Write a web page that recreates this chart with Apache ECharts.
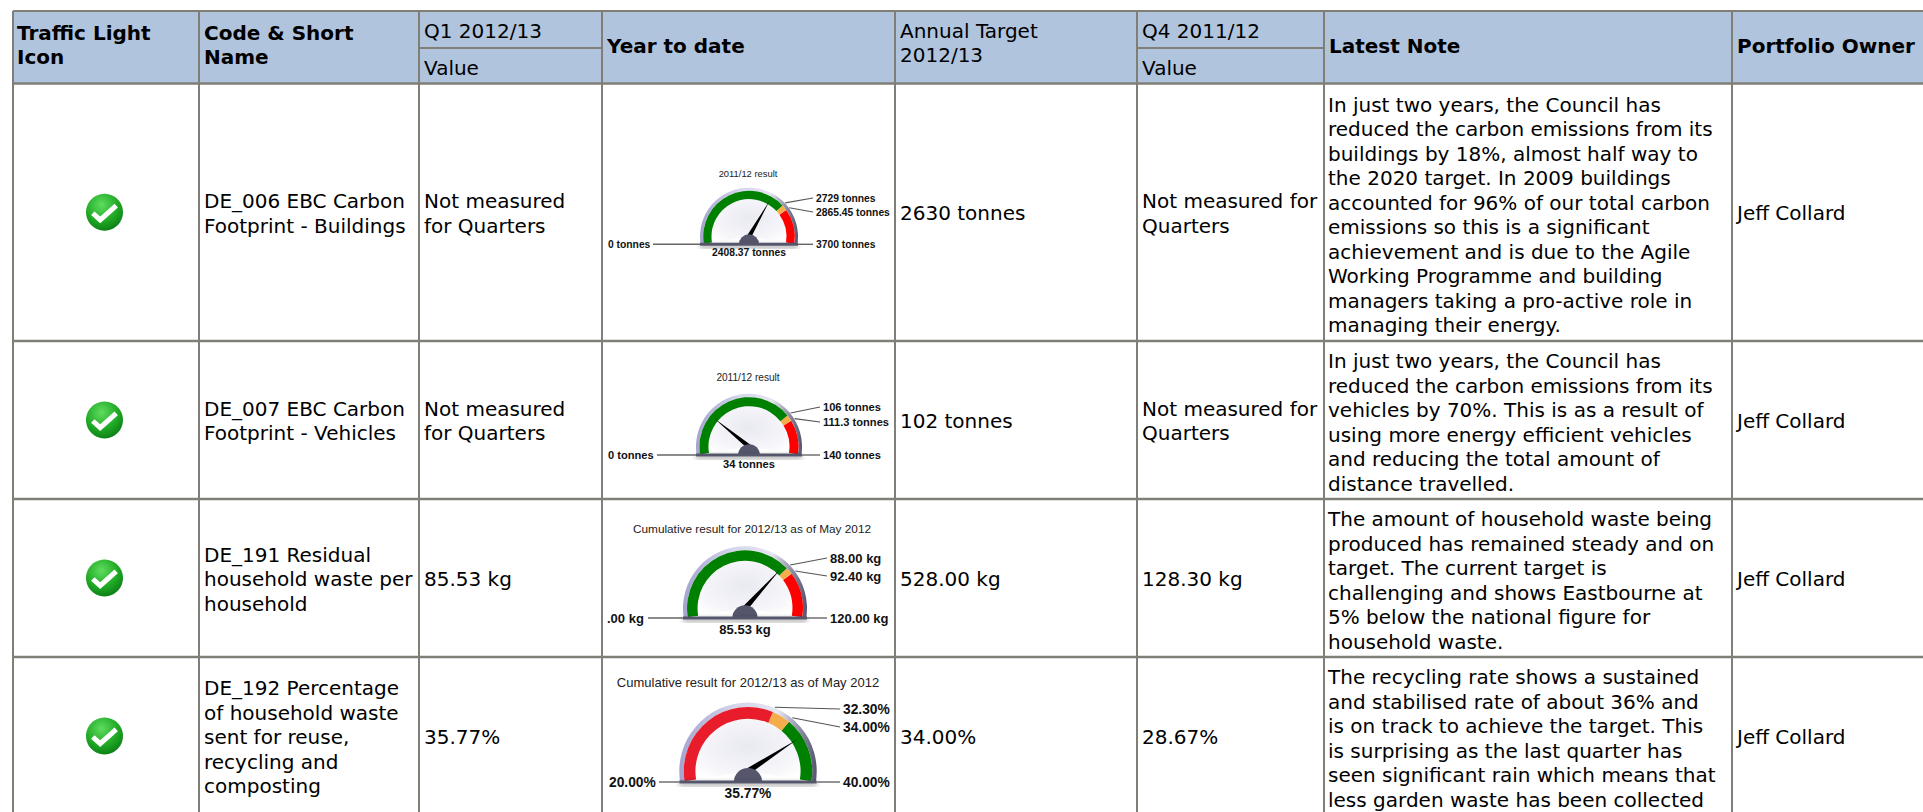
<!DOCTYPE html>
<html>
<head>
<meta charset="utf-8">
<title>Scorecard</title>
<style>
  html, body { margin: 0; padding: 0; background: #fff; overflow: hidden; }
  #chart { width: 1923px; height: 812px; }
</style>
<script src="https://cdn.jsdelivr.net/npm/echarts@6/dist/echarts.min.js"></script>
</head>
<body>
<div id="chart"></div>
<script>
// table text
const headerBold = ['Traffic Light\nIcon', 'Code & Short\nName', 'Year to date', 'Latest Note', 'Portfolio Owner']
const kpiNames = [
  'DE_006 EBC Carbon\nFootprint - Buildings',
  'DE_007 EBC Carbon\nFootprint - Vehicles',
  'DE_191 Residual\nhousehold waste per\nhousehold',
  'DE_192 Percentage\nof household waste\nsent for reuse,\nrecycling and\ncomposting'
]
const q1Values = ['Not measured\nfor Quarters', 'Not measured\nfor Quarters', '85.53 kg', '35.77%']
const annualTargets = ['2630 tonnes', '102 tonnes', '528.00 kg', '34.00%']
const q4Values = ['Not measured for\nQuarters', 'Not measured for\nQuarters', '128.30 kg', '28.67%']
const owners = ['Jeff Collard', 'Jeff Collard', 'Jeff Collard', 'Jeff Collard']
const notes = [
  'In just two years, the Council has\nreduced the carbon emissions from its\nbuildings by 18%, almost half way to\nthe 2020 target. In 2009 buildings\naccounted for 96% of our total carbon\nemissions so this is a significant\nachievement and is due to the Agile\nWorking Programme and building\nmanagers taking a pro-active role in\nmanaging their energy.',
  'In just two years, the Council has\nreduced the carbon emissions from its\nvehicles by 70%. This is as a result of\nusing more energy efficient vehicles\nand reducing the total amount of\ndistance travelled.',
  'The amount of household waste being\nproduced has remained steady and on\ntarget. The current target is\nchallenging and shows Eastbourne at\n5% below the national figure for\nhousehold waste.',
  'The recycling rate shows a sustained\nand stabilised rate of about 36% and\nis on track to achieve the target. This\nis surprising as the last quarter has\nseen significant rain which means that\nless garden waste has been collected'
]

// gauge values
const gaugeTitles = ['2011/12 result', '2011/12 result', 'Cumulative result for 2012/13 as of May 2012', 'Cumulative result for 2012/13 as of May 2012']
const gaugeMin = [0, 0, 0, 20]
const gaugeMax = [3700, 140, 120, 40]
const gaugeLow = [2729, 106, 88, 32.3]
const gaugeHigh = [2865.45, 111.3, 92.4, 34]
const gaugeValue = [2408.37, 34, 85.53, 35.77]
const gaugeColors = [
  ['#008000', '#f4ad4a', '#ff0000'],
  ['#008000', '#f4ad4a', '#ff0000'],
  ['#008000', '#f4ad4a', '#ff0000'],
  ['#e81c2a', '#f4ad4a', '#008000']
]
const minLabels = ['0 tonnes', '0 tonnes', '.00 kg', '20.00%']
const lowLabels = ['2729 tonnes', '106 tonnes', '88.00 kg', '32.30%']
const highLabels = ['2865.45 tonnes', '111.3 tonnes', '92.40 kg', '34.00%']
const maxLabels = ['3700 tonnes', '140 tonnes', '120.00 kg', '40.00%']
const valueLabels = ['2408.37 tonnes', '34 tonnes', '85.53 kg', '35.77%']

// layout
const colX = [13, 199, 419, 602, 895, 1137, 1324, 1732]
const rowY = [83.5, 341, 499, 657, 815]
const TOP = 11, MID = 48, W = 1923
const FONT = '"DejaVu Sans", Verdana, sans-serif'
const LABEL_FONT = '"Liberation Sans", Arial, sans-serif'
const FS = 20
const LH = 24.5
const BORDER = '#7f7f78'

const gaugeCx = [749, 749, 745, 748]
const gaugeBase = [244.3, 455, 618, 782]
const gaugeR = [49, 53, 62, 68.7]
const titleCx = [748, 748, 752, 748]
const titleY = [173, 377, 529, 682]
const titleSize = [9.4, 10.1, 11.8, 13]
const labelSize = [10.3, 11.1, 13, 13.8]
const rightX = [816, 823, 830, 843]
const lowY = [198, 407, 558, 709]
const highY = [212, 422, 576, 727]
const leftX = [608, 608, 607, 609]
const leftLineX = [653, 657, 648, 659]
const valueDy = [8, 9, 11, 11]

const START = 189, END = -9, SWEEP = START - END

const bare = {
  type: 'gauge', startAngle: START, endAngle: END,
  axisTick: { show: false }, splitLine: { show: false }, axisLabel: { show: false },
  title: { show: false }, detail: { show: false }, pointer: { show: false }
}

function gaugeSeries(i) {
  const R = gaugeR[i]
  const cy = gaugeBase[i] - R * Math.sin(9 * Math.PI / 180)
  const center = [gaugeCx[i], cy]
  const frac = v => (v - gaugeMin[i]) / (gaugeMax[i] - gaugeMin[i])
  const face = {
    ...bare, center, radius: R, min: gaugeMin[i], max: gaugeMax[i], data: [{ value: gaugeMin[i] }],
    axisLine: { lineStyle: { width: R, color: [[1, new echarts.graphic.RadialGradient(0.5, 0.55, 0.5, [
      { offset: 0, color: '#e9e9f1' }, { offset: 0.7, color: '#f5f5fa' }, { offset: 1, color: '#ffffff' }
    ])]] } }
  }
  const rim = {
    ...bare, center, radius: R, min: gaugeMin[i], max: gaugeMax[i], data: [{ value: gaugeMin[i] }],
    axisLine: { lineStyle: { width: R * 0.065, color: [[1, new echarts.graphic.LinearGradient(0, 0, 1, 0, [
      { offset: 0, color: '#a4a4cf' }, { offset: 0.4, color: '#d4d4ec' }, { offset: 0.72, color: '#e6e6f2' },
      { offset: 0.88, color: '#8c8ca4' }, { offset: 1, color: '#55556f' }
    ])]] } }
  }
  const band = {
    ...bare, center, radius: R * 0.935, min: gaugeMin[i], max: gaugeMax[i],
    data: [{ value: gaugeValue[i] }],
    axisLine: { lineStyle: { width: R * 0.17, color: [
      [frac(gaugeLow[i]), gaugeColors[i][0]],
      [frac(gaugeHigh[i]), gaugeColors[i][1]],
      [1, gaugeColors[i][2]]
    ] } },
    pointer: { show: true, icon: 'triangle', length: R * 0.85, width: R * 0.09, itemStyle: { color: '#000' } }
  }
  const hub = {
    ...bare, center: [gaugeCx[i], gaugeBase[i]], radius: R * 0.205, startAngle: 180, endAngle: 0,
    min: gaugeMin[i], max: gaugeMax[i], data: [{ value: gaugeMin[i] }],
    axisLine: { lineStyle: { width: R * 0.205, color: [[1, '#55566c']] } }
  }
  return [face, rim, band, hub]
}

function text(str, x, y, opt) {
  return {
    type: 'text', z: 10, silent: true,
    style: Object.assign({
      text: str, x, y, fontFamily: FONT, fontSize: FS, lineHeight: LH, fill: '#000',
      verticalAlign: 'middle', align: 'left'
    }, opt || {})
  }
}
function line(x1, y1, x2, y2, stroke, lineWidth) {
  return { type: 'line', z: 8, silent: true, shape: { x1, y1, x2, y2 }, style: { stroke, lineWidth } }
}

function tableGraphics() {
  const els = []
  // header
  els.push({ type: 'rect', z: 1, shape: { x: colX[0], y: TOP, width: W - colX[0], height: rowY[0] - TOP }, style: { fill: '#b0c4de' } })
  // lines
  els.push(line(colX[0], TOP, W, TOP, BORDER, 2))
  rowY.slice(0, 4).forEach(y => els.push(line(colX[0], y, W, y, BORDER, 2.4)))
  colX.forEach(x => els.push(line(x, TOP, x, 812, BORDER, 2)))
  els.push(line(colX[2], MID, colX[3], MID, BORDER, 2))
  els.push(line(colX[5], MID, colX[6], MID, BORDER, 2))

  const bold = { fontWeight: 'bold' }
  els.push(text(headerBold[0], 17, 45, bold))
  els.push(text(headerBold[1], 204, 45, bold))
  els.push(text(headerBold[2], 607, 45.5, bold))
  els.push(text(headerBold[3], 1329, 45.5, bold))
  els.push(text(headerBold[4], 1737, 45.5, bold))
  els.push(text('Q1 2012/13', 424, 31))
  els.push(text('Value', 424, 67.5))
  els.push(text('Annual Target\n2012/13', 900, 43))
  els.push(text('Q4 2011/12', 1142, 31))
  els.push(text('Value', 1142, 67.5))

  kpiNames.forEach((_, r) => {
    const mid = (rowY[r] + rowY[r + 1]) / 2 + 1
    els.push(text(kpiNames[r], colX[1] + 5, mid))
    els.push(text(q1Values[r], colX[2] + 5, mid))
    els.push(text(annualTargets[r], colX[4] + 5, mid))
    els.push(text(q4Values[r], colX[5] + 5, mid))
    els.push(text(notes[r], colX[6] + 4, mid + 1.5))
    els.push(text(owners[r], colX[7] + 5, mid))
    // status icon
    const ix = 104.5, iy = mid - 1
    els.push({
      type: 'circle', z: 5, shape: { cx: ix, cy: iy, r: 18.5 },
      style: { fill: new echarts.graphic.RadialGradient(0.42, 0.3, 0.75, [
        { offset: 0, color: '#5fdc5f' }, { offset: 0.6, color: '#1fa824' }, { offset: 1, color: '#0a7a14' }
      ]) }
    })
    els.push({
      type: 'polyline', z: 6,
      shape: { points: [[ix - 11.7, iy + 1], [ix - 4.3, iy + 7.7], [ix + 11.7, iy - 6.7]] },
      style: { stroke: '#fff', lineWidth: 5, fill: null }
    })
  })
  return els
}

function gaugeGraphics(i) {
  const R = gaugeR[i], cx = gaugeCx[i], base = gaugeBase[i]
  const cy = base - R * Math.sin(9 * Math.PI / 180)
  const angle = v => (START - (v - gaugeMin[i]) / (gaugeMax[i] - gaugeMin[i]) * SWEEP) * Math.PI / 180
  const rimPoint = v => [cx + R * 1.01 * Math.cos(angle(v)), cy - R * 1.01 * Math.sin(angle(v))]
  const lab = { fontFamily: LABEL_FONT, fontSize: labelSize[i], fontWeight: 'bold', fill: '#111' }
  const lowP = rimPoint(gaugeLow[i]), highP = rimPoint(gaugeHigh[i])
  return [
    { type: 'rect', z: 6, silent: true, shape: { x: cx - R, y: base - 1.5, width: 2 * R, height: 3 },
      style: { fill: '#55566c', shadowBlur: 5, shadowOffsetY: 2, shadowColor: 'rgba(0,0,0,0.45)' } },
    text(gaugeTitles[i], titleCx[i], titleY[i], { fontFamily: LABEL_FONT, fontSize: titleSize[i], align: 'center', fill: '#222' }),
    line(lowP[0], lowP[1], rightX[i] - 3, lowY[i], '#555', 1.1),
    line(highP[0], highP[1], rightX[i] - 3, highY[i], '#555', 1.1),
    line(cx + R, base, rightX[i] - 3, base, '#666', 1.4),
    line(leftLineX[i], base, cx - R, base, '#666', 1.4),
    text(lowLabels[i], rightX[i], lowY[i], lab),
    text(highLabels[i], rightX[i], highY[i], lab),
    text(maxLabels[i], rightX[i], base, lab),
    text(minLabels[i], leftX[i], base, lab),
    text(valueLabels[i], cx, base + valueDy[i], Object.assign({}, lab, { align: 'center' }))
  ]
}

const chart = echarts.init(document.getElementById('chart'), null, { renderer: 'svg' })
chart.setOption({
  animation: false,
  backgroundColor: '#fff',
  series: [0, 1, 2, 3].flatMap(gaugeSeries),
  graphic: { elements: tableGraphics().concat([0, 1, 2, 3].flatMap(gaugeGraphics)) }
})
</script>
</body>
</html>
